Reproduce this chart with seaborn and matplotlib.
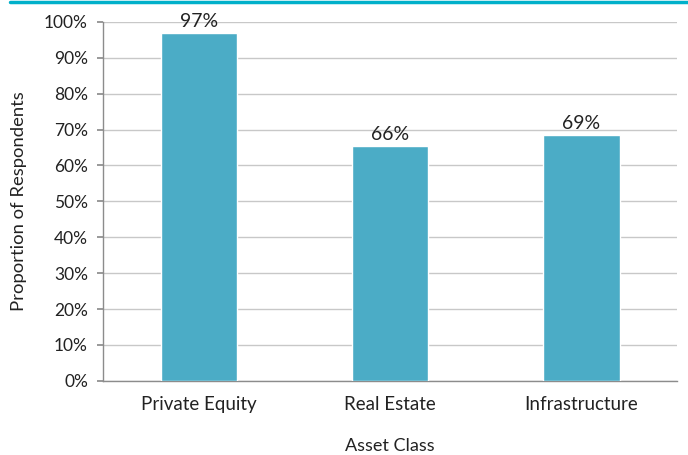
import matplotlib
matplotlib.use("Agg")
import matplotlib.pyplot as plt
import seaborn as sns
import pandas as pd
from matplotlib.lines import Line2D
from matplotlib.ticker import PercentFormatter

categories = ["Private Equity", "Real Estate", "Infrastructure"]
values = [0.97, 0.655, 0.685]
value_labels = ["97%", "66%", "69%"]
yticks = [0, 0.1, 0.2, 0.3, 0.4, 0.5, 0.6, 0.7, 0.8, 0.9, 1.0]

sns.set_theme(style="white")
plt.rcParams['font.family'] = ['Lato', 'DejaVu Sans']

df = pd.DataFrame({"Asset Class": categories, "Proportion": values})

fig = plt.figure(figsize=(6.88, 4.55), dpi=100)
ax = fig.add_axes([0.150, 0.163, 0.834, 0.789])

sns.barplot(data=df, x="Asset Class", y="Proportion", color="#4bacc6",
            saturation=1, width=0.4, ax=ax, zorder=3)

ax.set_ylim(0, 1.0)
ax.set_xlim(-0.5, 2.5)
ax.set_yticks(yticks)
ax.yaxis.set_major_formatter(PercentFormatter(1.0, decimals=0))
ax.grid(axis="y", color="#c8c8c8", linewidth=1, zorder=0)
ax.set_axisbelow(True)

for s in ["top", "right"]:
    ax.spines[s].set_visible(False)
for s in ["left", "bottom"]:
    ax.spines[s].set_color("#8c8c8c")
    ax.spines[s].set_linewidth(1)

ax.tick_params(axis="y", left=True, length=4, color="#8c8c8c", labelsize=12.5, labelcolor="#222222", pad=7)
ax.tick_params(axis="x", bottom=False, labelsize=13.5, labelcolor="#222222", pad=5)

ax.set_xlabel("Asset Class", fontsize=13, color="#222222", labelpad=18)
ax.set_ylabel("Proportion of Respondents", fontsize=13.3, color="#222222", labelpad=12)

for i, (v, lab) in enumerate(zip(values, value_labels)):
    ax.text(i, v + 0.008, lab, ha="center", va="bottom", fontsize=14, color="#222222", zorder=4)

fig.add_artist(Line2D([10 / 688, 1.0], [1 - 1.5 / 455, 1 - 1.5 / 455],
                      transform=fig.transFigure, color="#00b0ca", linewidth=2.5))

fig.savefig("out.png", dpi=100)
